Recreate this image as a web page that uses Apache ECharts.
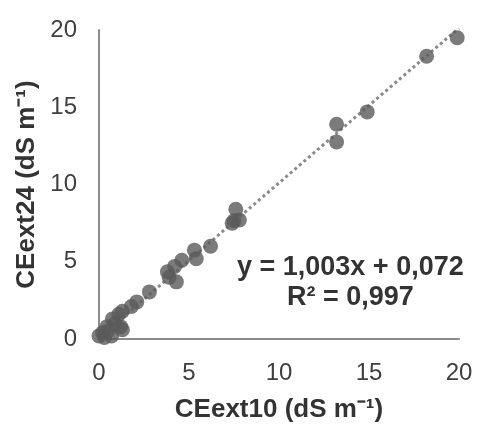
<!DOCTYPE html>
<html>
<head>
<meta charset="utf-8">
<script src="https://cdn.jsdelivr.net/npm/echarts@6/dist/echarts.min.js"></script>
<style>html,body{margin:0;padding:0;background:#fff}#c{width:478px;height:428px}</style>
</head>
<body>
<div id="c"></div>
<script>
var xTitle = 'CEext10 (dS m\u207B\u00B9)';
var yTitle = 'CEext24 (dS m\u207B\u00B9)';
var eqText = 'y = 1,003x + 0,072';
var r2Text = 'R\u00B2 = 0,997';
var slope = 1.003, intercept = 0.072;
var ce10 = [19.9, 18.2, 14.9, 13.2, 13.2, 7.6, 7.5, 7.8, 7.4, 6.2, 5.3, 5.4, 4.6, 4.2, 3.8, 3.9, 4.3, 2.8, 2.1, 1.8, 1.3, 1.1, 0.75, 1.2, 0.45, 0.2, 0.0, 0.7, 1.3, 0.3, 0.5, 0.9];
var ce24 = [19.5, 18.3, 14.7, 13.9, 12.75, 8.4, 7.65, 7.7, 7.5, 6.0, 5.75, 5.2, 5.1, 4.7, 4.35, 4.0, 3.7, 3.05, 2.4, 2.1, 1.8, 1.6, 1.3, 0.8, 0.8, 0.4, 0.2, 0.2, 0.6, 0.1, 0.5, 1.0];
var lineX = [0, 20];

var pts = ce10.map(function (x, i) { return [x, ce24[i]]; });
var trend = lineX.map(function (x) { return [x, slope * x + intercept]; });

var chart = echarts.init(document.getElementById('c'));
chart.setOption({
  animation: false,
  backgroundColor: '#fff',
  grid: { left: 99, right: 19, top: 30, bottom: 86 },
  xAxis: {
    type: 'value', min: 0, max: 20, interval: 5,
    name: xTitle, nameLocation: 'middle', nameGap: 58,
    nameTextStyle: { fontFamily: 'Liberation Sans', fontWeight: 'bold', fontSize: 26, color: '#333' },
    axisLine: { lineStyle: { color: '#8c8c8c', width: 2 } },
    axisTick: { show: false },
    splitLine: { show: false },
    axisLabel: { fontFamily: 'Liberation Sans', fontSize: 24, color: '#404040', margin: 22 }
  },
  yAxis: {
    type: 'value', min: 0, max: 20, interval: 5,
    name: yTitle, nameLocation: 'middle', nameGap: 58, nameRotate: 90,
    nameTextStyle: { fontFamily: 'Liberation Sans', fontWeight: 'bold', fontSize: 26, color: '#333' },
    axisLine: { lineStyle: { color: '#8c8c8c', width: 2 } },
    axisTick: { show: false },
    splitLine: { show: false },
    axisLabel: { fontFamily: 'Liberation Sans', fontSize: 24, color: '#404040', margin: 22 }
  },
  series: [
    {
      type: 'line', data: trend, symbol: 'none', z: 1,
      lineStyle: { color: '#8a8a8a', width: 3, type: [3, 3] }
    },
    {
      type: 'scatter', data: pts, symbolSize: 15, z: 2,
      itemStyle: { color: '#5a5a5a' }
    }
  ],
  graphic: [
    { type: 'text', left: 237, top: 254, style: { text: eqText, fontFamily: 'Liberation Sans', fontWeight: 'bold', fontSize: 27, fill: '#333' } },
    { type: 'text', left: 287, top: 284, style: { text: r2Text, fontFamily: 'Liberation Sans', fontWeight: 'bold', fontSize: 27, fill: '#333' } }
  ]
});
</script>
</body>
</html>
